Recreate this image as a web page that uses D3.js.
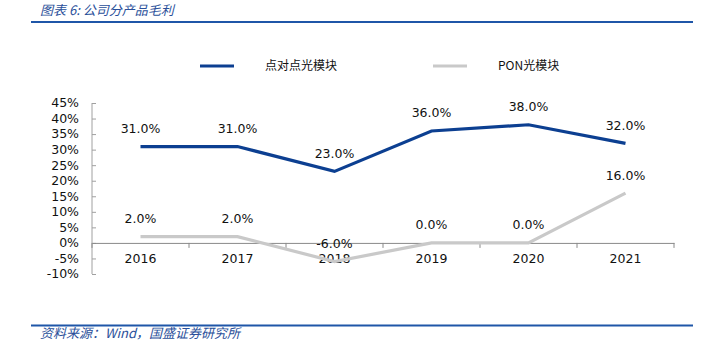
<!DOCTYPE html>
<html><head><meta charset="utf-8">
<script src="https://cdn.jsdelivr.net/npm/d3@7"></script>
<style>
html,body{margin:0;padding:0;background:#fff;}
svg{display:block;}
</style></head>
<body>
<svg id="c" width="701" height="357"></svg>
<script>
const title = "图表 6:  公司分产品毛利";
const source = "资料来源：Wind，国盛证券研究所";
const categories = ["2016","2017","2018","2019","2020","2021"];
const seriesNames = ["点对点光模块","PON光模块"];
const p2pValues = [31.0, 31.0, 23.0, 36.0, 38.0, 32.0];
const ponValues = [2.0, 2.0, -6.0, 0.0, 0.0, 16.0];
const yTicks = [-10,-5,0,5,10,15,20,25,30,35,40,45];
const colors = ["#0c3f91","#c9c9c9"];

const svg = d3.select("#c");
const font = "'DejaVu Sans', Verdana, sans-serif";
const cjk = "'Noto Sans CJK SC', sans-serif";
const fs = 12.5;

// header
svg.append("text").attr("x",40).attr("y",15).attr("font-family",cjk).attr("font-style","italic")
  .attr("font-size",13).attr("fill","#2a4f9a").text(title);
svg.append("line").attr("x1",31).attr("x2",693).attr("y1",22).attr("y2",22)
  .attr("stroke","#1f56a8").attr("stroke-width",2);
svg.append("line").attr("x1",31).attr("x2",693).attr("y1",325.5).attr("y2",325.5)
  .attr("stroke","#1f56a8").attr("stroke-width",2);
svg.append("text").attr("x",40).attr("y",338).attr("font-family",cjk).attr("font-style","italic")
  .attr("font-size",13).attr("fill","#2a4f9a").text(source);

const x = d3.scaleBand().domain(categories).range([92,674]);
const y = d3.scaleLinear().domain([-10,45]).range([274,103]);

// y axis
const ya = svg.append("g").attr("transform","translate(92,0)")
  .call(d3.axisRight(y).tickValues(yTicks).tickSize(4).tickFormat(""));
ya.selectAll("path,line").attr("stroke","#a0a0a0");
ya.select(".domain").attr("d", `M0,${y(-10)}V${y(45)}`);
svg.append("g").selectAll("text").data(yTicks).join("text")
  .attr("x",79).attr("y",d=>y(d)).attr("dy","0.35em").attr("text-anchor","end")
  .attr("font-family",font).attr("font-size",fs).attr("fill","#111")
  .text(d=>d+"%");

// x axis
const xa = svg.append("g").attr("transform",`translate(0,${y(0)})`)
  .call(d3.axisBottom(x).tickSize(0).tickFormat(""));
xa.select(".domain").attr("stroke","#8a8a8a");
svg.append("g").selectAll("line").data(d3.range(categories.length+1)).join("line")
  .attr("x1",i=>92+i*x.step()).attr("x2",i=>92+i*x.step())
  .attr("y1",y(0)).attr("y2",y(0)+5).attr("stroke","#8a8a8a");
svg.append("g").selectAll("text").data(categories).join("text")
  .attr("x",d=>x(d)+x.bandwidth()/2).attr("y",y(0)+20).attr("text-anchor","middle")
  .attr("font-family",font).attr("font-size",fs).attr("fill","#111").text(d=>d);

// lines
const line = d3.line().x((d,i)=>x(categories[i])+x.bandwidth()/2).y(d=>y(d));
[ponValues, p2pValues].forEach((vals,k)=>{
  const c = k===0 ? colors[1] : colors[0];
  svg.append("path").datum(vals).attr("d",line).attr("fill","none")
    .attr("stroke",c).attr("stroke-width",3.2).attr("stroke-linejoin","miter");
});
[p2pValues, ponValues].forEach(vals=>{
  svg.append("g").selectAll("text").data(vals).join("text")
    .attr("x",(d,i)=>x(categories[i])+x.bandwidth()/2).attr("y",d=>y(d)-18).attr("dy","0.35em")
    .attr("text-anchor","middle").attr("font-family",font).attr("font-size",fs).attr("fill","#111")
    .text(d=>d.toFixed(1)+"%");
});

// legend
const leg = [{n:seriesNames[0],c:colors[0],x:200},{n:seriesNames[1],c:colors[1],x:433}];
leg.forEach(l=>{
  svg.append("line").attr("x1",l.x).attr("x2",l.x+34).attr("y1",66).attr("y2",66)
    .attr("stroke",l.c).attr("stroke-width",3.2);
  svg.append("text").attr("x",l.x+65).attr("y",66).attr("dy","0.35em")
    .attr("font-family",cjk).attr("font-size",12).attr("fill","#111").text(l.n);
});
</script>
</body></html>
